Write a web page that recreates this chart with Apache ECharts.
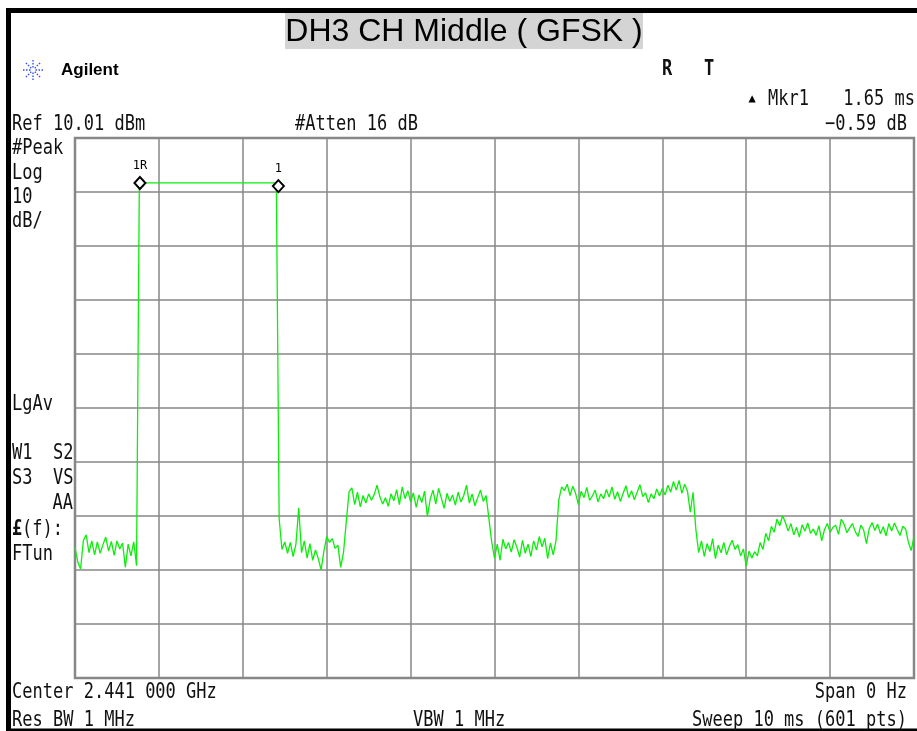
<!DOCTYPE html>
<html>
<head>
<meta charset="utf-8">
<script src="https://cdn.jsdelivr.net/npm/echarts@6/dist/echarts.min.js"></script>
<style>
  html, body { margin: 0; padding: 0; background: #fff; }
  #chart { width: 917px; height: 731px; }
</style>
</head>
<body>
<div id="chart"></div>
<script>
// zero-span sweep, 10 ms, trace (every 2nd of 601 pts)
const sweepMs = 10;
const noiseBefore = [-65.8, -68.5, -69.8, -64.5, -63.5, -66.8, -64.6, -67.2, -64.8, -66.9, -65.3, -63.9,
  -66.5, -64.7, -67.3, -64.6, -66.1, -65, -69.5, -65.2, -67.4, -64.8, -69.2];
const burstLevel = [1.68, 1.68, 1.68, 1.68, 1.68, 1.68, 1.68, 1.68, 1.68, 1.68,
  1.68, 1.68, 1.68, 1.68, 1.68, 1.68, 1.68, 1.68, 1.68, 1.68,
  1.68, 1.68, 1.68, 1.68, 1.68, 1.68, 1.68, 1.68, 1.68, 1.68,
  1.68, 1.68, 1.68, 1.68, 1.68, 1.68, 1.68, 1.68, 1.68, 1.68,
  1.68, 1.68, 1.68, 1.68, 1.68, 1.68, 1.68, 1.68, 1.68, 1.68];
const noiseAfter = [-60.5, -66.2, -64.8, -66.9, -64.9, -67.5, -65.2, -58.5, -66.8, -64.6, -67.8, -65.1,
  -68.2, -66.3, -67.9, -70.0, -66.5, -63.8, -64.9, -64.2, -66, -65.4, -69.5, -66.8, -61.0];
const slotA = [-55.5, -54.8, -57.9, -55.6, -58.3, -56.2, -57.6, -55.9, -57.1, -56, -54.3, -56.4, -57.8,
  -56.6, -58.2, -55.9, -57.2, -55.1, -57.9, -54.6, -56.8, -55.3, -57.4, -55.7, -58.4, -56.1, -57.5,
  -55.4, -60.1, -56.9, -55.2, -57.8, -54.9, -56.7, -58.6, -55.8, -57.3, -56.1, -58, -55.6, -57.4,
  -56.2, -54.3, -57.6, -55.9, -58.1, -56.6, -55.2, -57.3, -56.2, -60.5, -64.8, -67.8];
const gapB = [-65.2, -68.2, -64.3, -66.1, -64.9, -66.7, -64.4, -65.8, -67.6, -64.5, -66.9, -65.2,
  -67.5, -64.6, -66.3, -63.8, -65.7, -64.1, -67.9, -65, -67.2, -64.5];
const slotC = [-57, -54.6, -55.3, -54.1, -56.2, -54.5, -55.8, -57.9, -55.4, -56.6, -54.7, -57.1, -56.3,
  -55.2, -57.4, -55.9, -56.8, -55.1, -56.5, -54.6, -56.9, -55.5, -57.3, -55.8, -54.4, -56.6, -55.3,
  -57, -55.6, -54.2, -56.4, -55.7, -57.5, -55.9, -56.8, -55, -56.3, -54.9, -56.1, -54.3, -55.6,
  -53.6, -55.2, -53.4, -55.8, -54.1, -55.4, -59.3, -55.6, -62.5, -66.8];
const gapD = [-64.6, -67.5, -65.1, -66.6, -64.2, -67.9, -65.4, -66.8, -64.9, -67.2, -65.6, -64.5,
  -66.2, -65.3, -67.4, -66.1, -69.3, -66.5, -67.8, -66.6, -67.4, -64.9, -66.2, -63.2, -64.6,
  -61.9, -63, -60.6, -61.8, -59.9];
const tailE = [-61.2, -62.8, -61.4, -63.5, -62.1, -63.9, -61.6, -62.8, -61.3, -63.2,
  -62.4, -63.6, -61.8, -64.6, -62.5, -61.4, -63, -62.1, -61.7, -63.4,
  -60.6, -61.5, -63.1, -62.2, -61.4, -62.9, -63.8, -61.7, -62.6, -65.1,
  -62.3, -61.2, -62.7, -61.5, -63.3, -62, -63.7, -61.4, -62.8, -61.3,
  -62.5, -63.6, -61.9, -62.4, -64.9, -66.4, -63.8];

const markerNames = ['1R', '1'];
const markerTimes = [0.774, 2.424];
const markerLevels = [1.68, 1.09];

const trace = [].concat(noiseBefore, burstLevel, noiseAfter, slotA, gapB, slotC, gapD, tailE);
const traceData = trace.map((v, i) => [i * sweepMs / (trace.length - 1), v]);

const mono = '"DejaVu Sans Mono", "Liberation Mono", monospace';
const sx = 0.81;
const dy = 2;

function label(text, x, y, align, font) {
  return {
    type: 'text', x: x, y: y + dy, scaleX: sx, silent: true,
    style: { text: text, fill: '#111', font: font || ('21px ' + mono), textAlign: align || 'left', textVerticalAlign: 'middle' }
  };
}

let myChart = echarts.init(document.getElementById('chart'), null, { renderer: 'canvas' });

// little agilent spark
let spark = [];
for (let k = 0; k < 8; k++) {
  let a = k * Math.PI / 4;
  spark.push({
    type: 'line', silent: true,
    shape: { x1: 33 + Math.cos(a) * 2.5, y1: 70 + Math.sin(a) * 2.5, x2: 33 + Math.cos(a) * 10, y2: 70 + Math.sin(a) * 10 },
    style: { stroke: '#3350f0', lineWidth: 1.4, lineDash: [1.5, 1.5] }
  });
}

let option = {
  animation: false,
  backgroundColor: '#fff',
  grid: { left: 75, right: 3, top: 138, bottom: 53, show: true, borderColor: '#878787', borderWidth: 2.5 },
  xAxis: {
    type: 'value', min: 0, max: sweepMs, interval: 1,
    axisLine: { show: false }, axisTick: { show: false }, axisLabel: { show: false },
    splitLine: { show: true, lineStyle: { color: '#878787', width: 1.5 } }
  },
  yAxis: {
    type: 'value', min: -90, max: 10, interval: 10,
    axisLine: { show: false }, axisTick: { show: false }, axisLabel: { show: false },
    splitLine: { show: true, lineStyle: { color: '#878787', width: 1.5 } }
  },
  series: [{
    type: 'line',
    data: traceData,
    showSymbol: false,
    lineStyle: { color: '#0aee0a', width: 1.3 },
    markPoint: {
      symbol: 'diamond',
      symbolSize: [11, 12],
      itemStyle: { color: '#fff', borderColor: '#000', borderWidth: 2 },
      label: { show: true, position: 'top', distance: 4, formatter: '{b}', color: '#000', fontSize: 12, fontFamily: mono },
      data: markerNames.map((n, i) => ({ name: n, coord: [markerTimes[i], markerLevels[i]] }))
    }
  }],
  graphic: [
    { type: 'rect', silent: true, shape: { x: 6, y: 8, width: 911, height: 5 }, style: { fill: '#000' } },
    { type: 'rect', silent: true, shape: { x: 6, y: 8, width: 5, height: 723 }, style: { fill: '#000' } },
    { type: 'rect', silent: true, shape: { x: 6, y: 728.5, width: 911, height: 2.5 }, style: { fill: '#000' } },
    { type: 'rect', silent: true, shape: { x: 285, y: 13, width: 358, height: 36 }, style: { fill: '#d4d4d4' } },
    { type: 'text', silent: true, x: 464, y: 32,
      style: { text: 'DH3 CH Middle ( GFSK )', fill: '#000', font: '32px "Liberation Sans", Arial, sans-serif', textAlign: 'center', textVerticalAlign: 'middle' } },
    { type: 'text', silent: true, x: 61, y: 70,
      style: { text: 'Agilent', fill: '#000', font: 'bold 17px "Liberation Sans", Arial, sans-serif', textVerticalAlign: 'middle' } },
    label('R', 662, 68, 'left', 'bold 21px ' + mono),
    label('T', 704, 68, 'left', 'bold 21px ' + mono),
    { type: 'text', silent: true, x: 752, y: 99,
      style: { text: '▲', fill: '#000', font: '12px ' + mono, textAlign: 'center', textVerticalAlign: 'middle' } },
    label('Mkr1', 768, 98),
    label('1.65 ms', 915, 98, 'right'),
    label('\u22120.59 dB', 907, 123, 'right'),
    label('Ref 10.01 dBm', 12, 123),
    label('#Atten 16 dB', 295, 123),
    label('#Peak', 12, 147),
    label('Log', 12, 172),
    label('10', 12, 196),
    label('dB/', 12, 220),
    label('LgAv', 12, 403),
    label('W1  S2', 12, 452),
    label('S3  VS', 12, 477),
    label('AA', 73, 502, 'right'),
    label('£', 12, 528, 'left', 'bold 21px ' + mono),
    label('(f):', 22, 528),
    label('FTun', 12, 553),
    label('Center 2.441 000 GHz', 12, 691),
    label('Span 0 Hz', 907, 691, 'right'),
    label('Res BW 1 MHz', 12, 719),
    label('VBW 1 MHz', 413, 719),
    label('Sweep 10 ms (601 pts)', 907, 719, 'right')
  ].concat(spark)
};

myChart.setOption(option);
</script>
</body>
</html>
